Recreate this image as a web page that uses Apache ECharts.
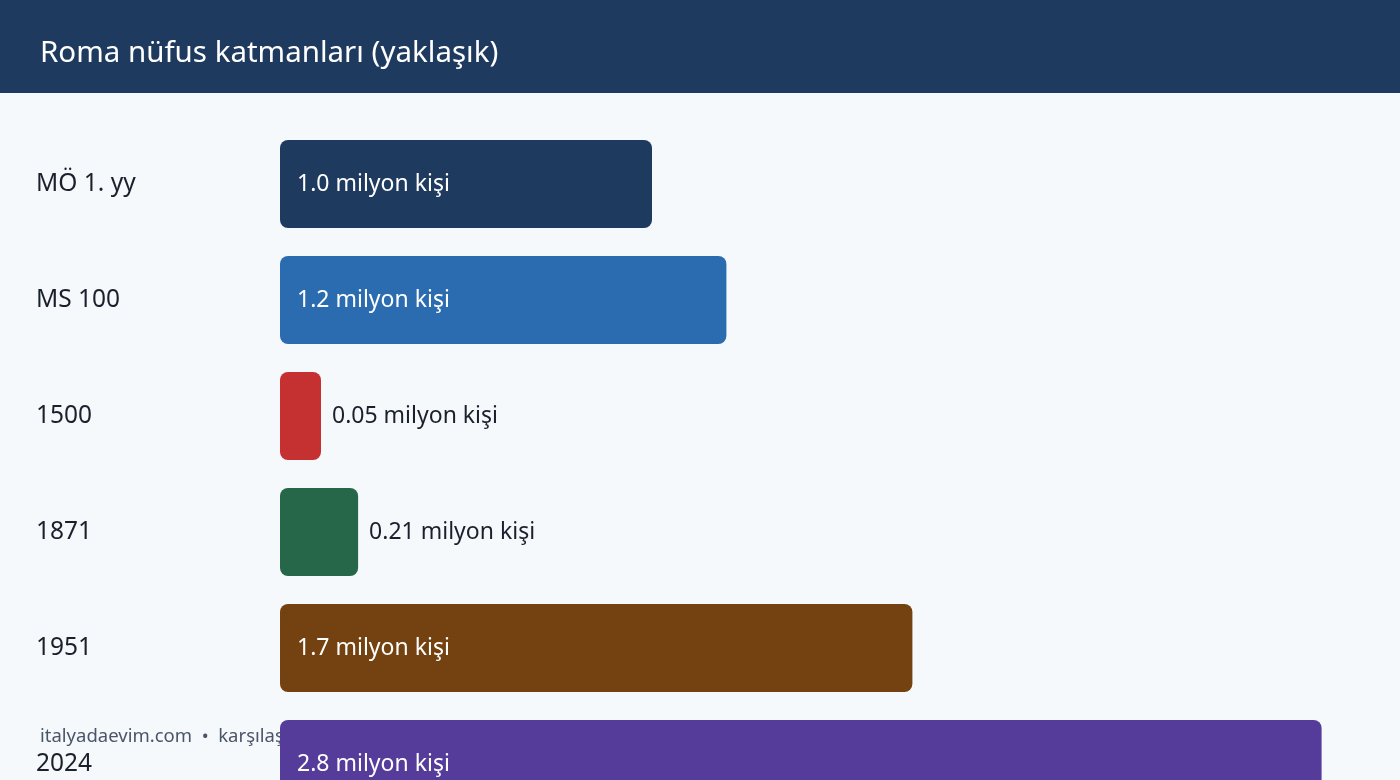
<html>
<head>
<meta charset="utf-8" />
<script src="https://cdn.jsdelivr.net/npm/echarts@6/dist/echarts.min.js"></script>
<style type="text/css">
	html, body, #main {
	width: 100%;
	height: 100%;
	margin: 0;
	background: #f5f9fc;
}
</style>
</head>
<body>
	<div id="main"></div>
	<script>
		var periods = ['MÖ 1. yy', 'MS 100', '1500', '1871', '1951', '2024'];
		var population = [1.0, 1.2, 0.05, 0.21, 1.7, 2.8];
		var popText = ['1.0', '1.2', '0.05', '0.21', '1.7', '2.8'];
		var barColors = ['#1f3a5f', '#2b6cb0', '#c53030', '#276749', '#744210', '#553c9a'];

		var font = 'Noto Sans';
		var chart = echarts.init(document.getElementById('main'));

		var data = [];
		for (var i = 0; i < population.length; i++) {
			var small = population[i] < 0.5;
			data.push({
				value : population[i],
				itemStyle : { color : barColors[i], borderRadius : 8 },
				label : {
					show : true,
					position : small ? 'right' : 'insideLeft',
					distance : small ? 11 : 17,
					color : small ? '#1a202c' : '#ffffff',
					fontSize : 23,
					fontFamily : font,
					padding : [2, 0, 0, 0],
					formatter : popText[i] + ' milyon kişi'
				}
			});
		}

		var option = {
			backgroundColor : '#f5f9fc',
			animation : false,
			graphic : [
				{ type : 'rect', left : 0, top : 0, z : 0,
				  shape : { width : 1400, height : 93 },
				  style : { fill : '#1f3a5f' } },
				{ type : 'text', left : 40, top : 39, z : 1,
				  style : { text : 'Roma nüfus katmanları (yaklaşık)', fill : '#ffffff',
				            fontSize : 29.5, fontFamily : font } },
				// footer sits under the last bar
				{ type : 'text', left : 40, top : 727, z : 0,
				  style : { text : 'italyadaevim.com  •  karşılaştırmalı veriler', fill : '#4a5568',
				            fontSize : 18.5, fontFamily : font } }
			],
			// chart runs past the bottom edge, last bar is cut off
			grid : { left : 280, right : 4, top : 126, height : 696, outerBoundsMode : 'none' },
			xAxis : {
				type : 'value', min : 0, max : 3,
				show : false
			},
			yAxis : {
				type : 'category', data : periods, inverse : true,
				axisLine : { show : false }, axisTick : { show : false },
				axisLabel : { align : 'left', margin : 244, color : '#1a202c',
				              fontSize : 24.5, fontFamily : font, padding : [7, 0, 0, 0] }
			},
			series : [ {
				type : 'bar', barWidth : 88, barMinHeight : 41, z : 2,
				data : data
			} ]
		};
		chart.setOption(option);

		window.onresize = function() {
			chart.resize();
		}
	</script>
</body>
</html>
